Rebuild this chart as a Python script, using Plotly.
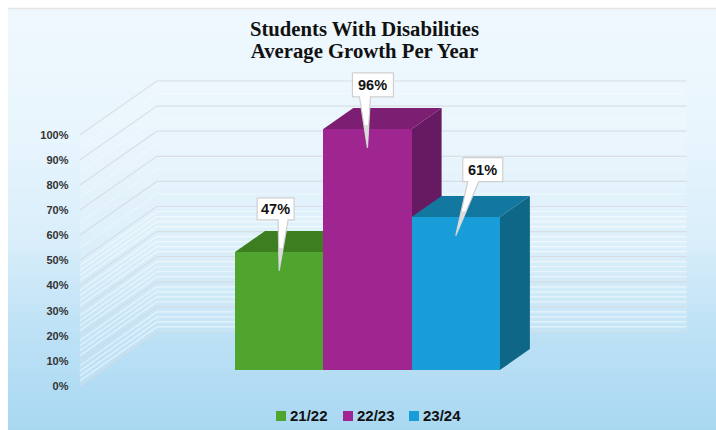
import numpy as np
import plotly.graph_objects as go

# Chart data
categories = ["21/22", "22/23", "23/24"]
growth = [47, 96, 61]
growth_labels = ["47%", "96%", "61%"]
front_colors = ["#4fa52e", "#9f2690", "#199dd9"]
top_colors = ["#3d7f20", "#7c1e71", "#12789f"]
side_colors = ["#35701c", "#661a62", "#0f6787"]
major_ticks = [0, 10, 20, 30, 40, 50, 60, 70, 80, 90, 100]
minor_lines = [2, 4, 6, 8, 12, 14, 16, 18, 22, 24, 26, 28, 32, 34, 36, 38, 42, 44, 46, 48, 55, 65, 75, 85, 95]

# Page geometry, in pixels
W, H = 716, 430
BAR_W = 88.3      # one category
PCT = 2.51        # one percentage point
BASE_X, BASE_Y = 235, 370   # left/bottom corner of the first bar
DX, DY = 30, 21   # on-screen offset for one bar depth


def px_x(p):
    return (p - BASE_X) / BAR_W - 0.5


def px_y(p):
    return (BASE_Y - p) / PCT


def project(x, v, depth=0.0):
    """Oblique projection of (category position, value, depth) on the flat axes."""
    return x + depth * DX / BAR_W, v + depth * DY / PCT


def polygon(points, color, axes=("x", "y"), line=None):
    xs, ys = zip(*points)
    return go.Scatter(
        x=list(xs) + [xs[0]], y=list(ys) + [ys[0]], mode="lines", fill="toself",
        fillcolor=color, line=line or dict(width=0), hoverinfo="skip",
        showlegend=False, xaxis=axes[0], yaxis=axes[1],
    )


fig = go.Figure()

# Panel background: vertical blue gradient
rows = np.arange(9, H + 1)
fig.add_trace(go.Heatmap(
    x=[px_x(8), px_x(362), px_x(W)],
    y=[px_y(p) for p in rows],
    z=[[p, p] for p in rows[:-1]],
    zmin=9, zmax=H, showscale=False, hoverinfo="skip",
    colorscale=[[0, "#eff8fe"], [0.3, "#e8f5fd"], [0.55, "#d9eefa"], [0.75, "#bfe2f6"], [1, "#a8d8f1"]],
))

# Chart walls
WALL_FRONT, WALL_BACK = -0.76, 1.81
WALL_L, WALL_R = -2.0, 4.0
fig.add_trace(polygon(
    [project(WALL_L, 0, WALL_FRONT), project(WALL_L, 0, WALL_BACK), project(WALL_R, 0, WALL_BACK),
     project(WALL_R, 100, WALL_BACK), project(WALL_L, 100, WALL_BACK), project(WALL_L, 100, WALL_FRONT)],
    "rgba(255,255,255,0.12)",
))


def wall_line(v, color, width):
    pts = [project(WALL_L, v, WALL_FRONT), project(WALL_L, v, WALL_BACK), project(WALL_R, v, WALL_BACK)]
    xs, ys = zip(*pts)
    fig.add_trace(go.Scatter(x=xs, y=ys, mode="lines", line=dict(color=color, width=width),
                             hoverinfo="skip", showlegend=False))


for v in minor_lines:
    wall_line(v, "rgba(255,255,255,0.55)" if v < 50 else "rgba(255,255,255,0.3)", 1.2)
for v in major_ticks:
    wall_line(v, "rgba(212,218,222,0.8)", 1.2)

# Top and side faces of the columns, back to front
for i, v in enumerate(growth):
    left, right = i - 0.5, i + 0.5
    fig.add_trace(polygon(
        [project(right, 0), project(right, v), project(right, v, 1), project(right, 0, 1)], side_colors[i]))
    fig.add_trace(polygon(
        [project(left, v), project(right, v), project(right, v, 1), project(left, v, 1)], top_colors[i]))

# Front faces sit on an overlaid copy of the value axes
for i, (name, v) in enumerate(zip(categories, growth)):
    fig.add_trace(go.Bar(x=[i], y=[v], width=1, name=name, marker=dict(color=front_colors[i], line=dict(width=0)),
                         xaxis="x2", yaxis="y2", showlegend=False, hoverinfo="skip"))

# Value callouts: box offsets from the pointer tip, in pixels (left, right, top, bottom)
box_offsets = [(-22, 15, -73, -51), (-15, 26, -75, -51), (7, 47, -78, -54)]
neck_offsets = [(-1, 9), (-8, 3), (12, 23)]
callout_line = dict(color="#cfcfcf", width=1.2)
annotations = []
for i, v in enumerate(growth):
    tip_x, tip_y = i, v - 7.5
    (bl, br, bt, bb), (nl, nr) = box_offsets[i], neck_offsets[i]
    ox = lambda d: tip_x + d / BAR_W
    oy = lambda d: tip_y - d / PCT
    outline = [(ox(bl), oy(bt)), (ox(br), oy(bt)), (ox(br), oy(bb)), (ox(nr), oy(bb)), (tip_x, tip_y),
               (ox(nl), oy(bb)), (ox(bl), oy(bb))]
    fig.add_trace(polygon(outline, "#ffffff", axes=("x2", "y2"), line=callout_line))
    # The pointer fades to grey towards its tip
    fade = 0.45
    fig.add_trace(polygon(
        [(ox(nl * fade), oy(bb * fade)), (ox(nr * fade), oy(bb * fade)), (tip_x, tip_y)],
        "#dcdcdc", axes=("x2", "y2")))
    annotations.append(dict(
        x=ox((bl + br) / 2), y=oy((bt + bb) / 2), xref="x2", yref="y2", text=growth_labels[i], showarrow=False,
        font=dict(family="Liberation Sans", size=14.5, color="#111111", weight="bold"),
    ))

# Trace that carries the percentage scale at the front edge of the wall
fig.add_trace(go.Scatter(x=[WALL_L, WALL_L], y=[0, 100], mode="lines", opacity=0, xaxis="x", yaxis="y3",
                         hoverinfo="skip", showlegend=False))

# Legend row
legend_swatch_left = [276, 343, 409]
shapes = [dict(type="line", xref="paper", yref="paper", x0=8 / W, x1=1, y0=1 - 8.5 / H, y1=1 - 8.5 / H,
               line=dict(color="#e4e4e4", width=1.5))]
for i, name in enumerate(categories):
    x0 = legend_swatch_left[i]
    shapes.append(dict(type="rect", xref="paper", yref="paper", x0=x0 / W, x1=(x0 + 10) / W,
                       y0=1 - 421 / H, y1=1 - 411 / H, fillcolor=front_colors[i], line=dict(width=0)))
    annotations.append(dict(x=(x0 + 12) / W, y=1 - 415.5 / H, xref="paper", yref="paper",
                            xanchor="left", yanchor="middle", text=name, showarrow=False,
                            font=dict(family="Liberation Sans", size=15, color="#111111", weight="bold")))

x_range = [px_x(0), px_x(W)]
y_range = [px_y(H), px_y(0)]
hidden = dict(visible=False, showgrid=False, zeroline=False, fixedrange=True)

# Line spacing follows the base title size, the glyphs follow the inline size
title_span = '<span style="font-size:20.7px">{}</span>'

fig.update_layout(
    width=W, height=H, margin=dict(l=0, r=0, t=0, b=0), paper_bgcolor="#ffffff", plot_bgcolor="rgba(0,0,0,0)",
    barmode="overlay", bargap=0, showlegend=False, annotations=annotations, shapes=shapes,
    title=dict(text=title_span.format("Students With Disabilities") + "<br>" + title_span.format("Average Growth Per Year"),
               x=364.5 / W, xanchor="center", y=1 - 36 / H, yanchor="top",
               font=dict(family="Liberation Serif", size=17, color="#111111", weight="bold")),
    xaxis=dict(range=x_range, **hidden),
    yaxis=dict(range=y_range, **hidden),
    xaxis2=dict(range=x_range, overlaying="x", **hidden),
    yaxis2=dict(range=y_range, overlaying="y", **hidden),
    yaxis3=dict(range=[(386 - H) / PCT, 386 / PCT], overlaying="y", anchor="free", position=68.5 / W, side="left",
                tickmode="array", tickvals=major_ticks, ticktext=[f"{t}%" for t in major_ticks], ticks="",
                showgrid=False, zeroline=False, showline=False, fixedrange=True,
                tickfont=dict(family="Liberation Sans", size=11, color="#333333", weight="bold")),
)

fig.write_html("out.html", config={"displayModeBar": False})
